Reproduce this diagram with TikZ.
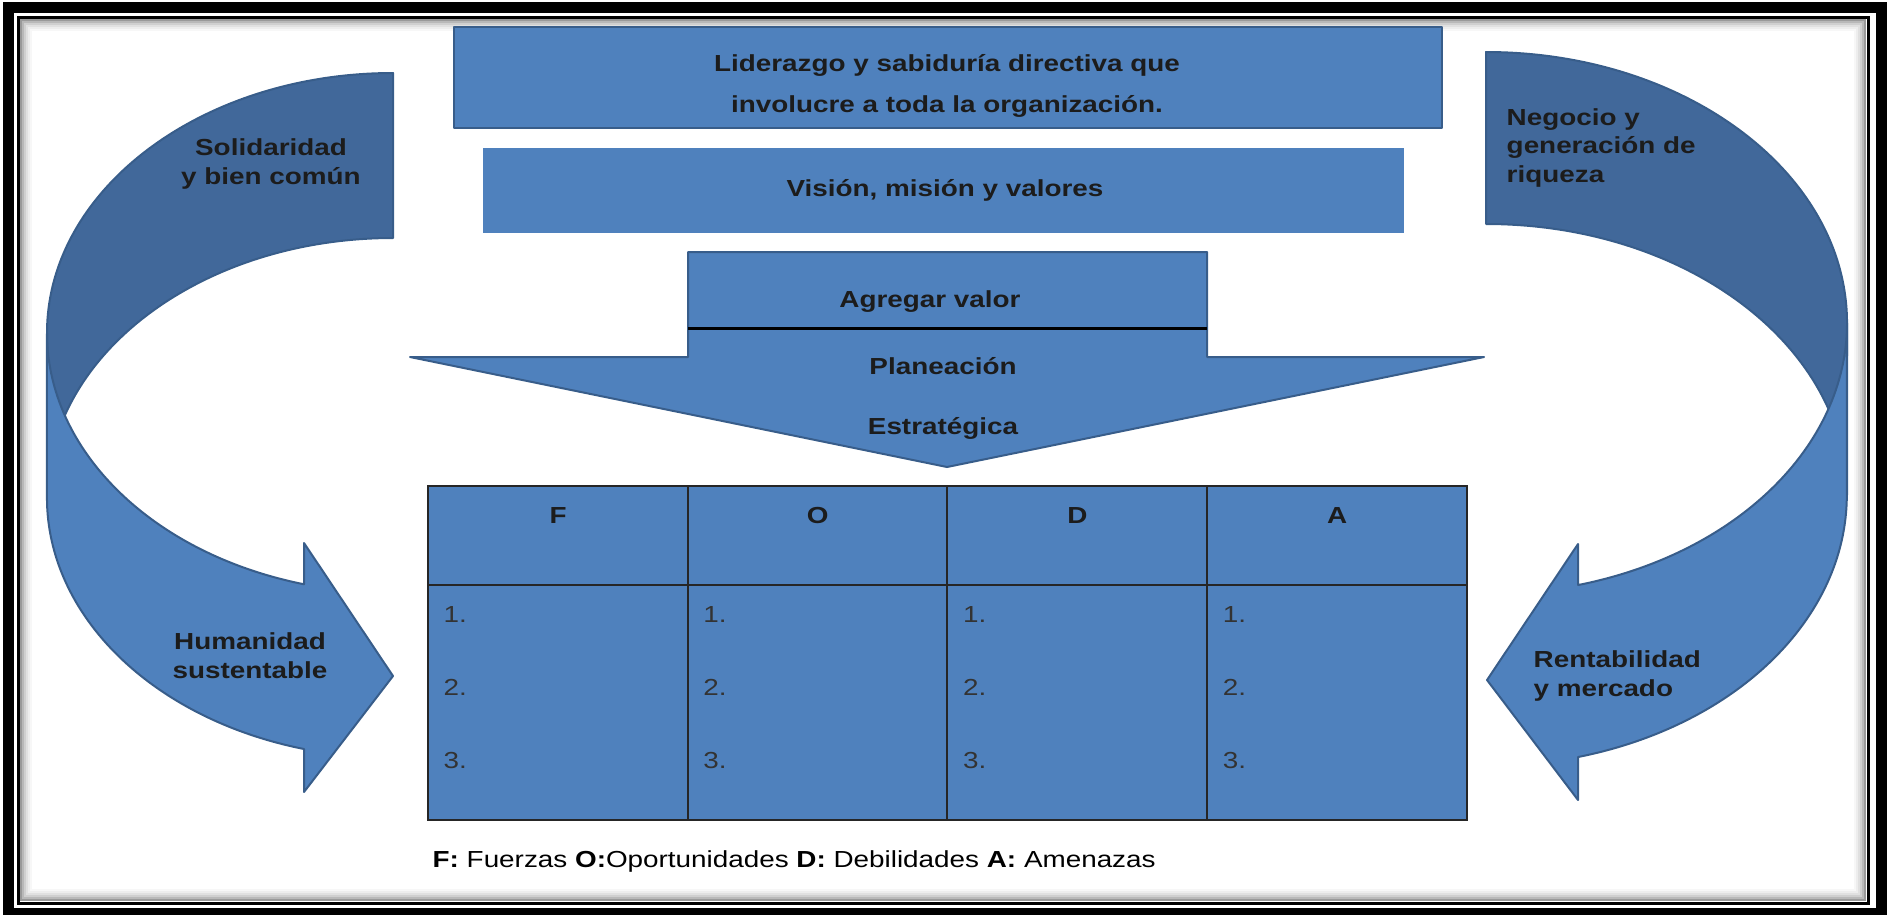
\documentclass[tikz,border=0pt]{standalone}
\usepackage{fontspec}
\setmainfont{Liberation Sans}[FakeStretch=1.2]
\definecolor{boxblue}{RGB}{79,129,189}
\definecolor{backblue}{RGB}{65,104,154}
\definecolor{edgeblue}{RGB}{56,93,138}
\definecolor{inkdark}{RGB}{28,28,28}

\begin{document}
\begin{tikzpicture}[x=0.01cm,y=-0.01cm,
    every node/.style={font=\fontsize{6.6}{8}\selectfont\bfseries, text=inkdark, inner sep=0pt},
    band/.style={fill=boxblue, draw=edgeblue, line width=0.02cm, line join=round},
    back/.style={band, fill=backblue},
    cell/.style={draw=black!85, fill=boxblue, line width=0.02cm},
    item/.style={anchor=base west, font=\fontsize{6.6}{8}\selectfont, text=black!80}]
  \useasboundingbox (0,0) rectangle (1892,914);
  % marco
  \draw[line width=0.11cm] (8.5,7.5) rectangle (1881.5,913.5);
  \draw[line width=0.03cm] (18.5,17.5) rectangle (1868.5,903.5);
  \foreach \i/\g in {1/40,2/28,3/19,4/12,5/7,6/3}
    \draw[black!\g, line width=0.02cm] (19+2*\i,18+2*\i) rectangle (1867-2*\i,902-2*\i);
  % flechas curvas
  \draw[back] (393,73) arc[start angle=270, end angle=180, x radius=346, y radius=260]
    -- (47,498) arc[start angle=180, end angle=270, x radius=346, y radius=260] -- cycle;
  \draw[band] (47,333) arc[start angle=180, end angle=104.9, x radius=346, y radius=260]
    -- (304,543) -- (393,676) -- (304,792) -- (304,749)
    arc[start angle=104.9, end angle=180, x radius=346, y radius=260] -- cycle;
  \draw[back] (1486,52) arc[start angle=270, end angle=360, x radius=361, y radius=271]
    -- (1847,495) arc[start angle=0, end angle=-90, x radius=361, y radius=271] -- cycle;
  \draw[band] (1847,323) arc[start angle=0, end angle=75.2, x radius=361, y radius=271]
    -- (1578,544) -- (1487,680) -- (1578,800) -- (1578,757)
    arc[start angle=75.2, end angle=0, x radius=361, y radius=271] -- cycle;
  \node[anchor=base, align=center] (solid) at (271,184) {Solidaridad\\y bien común};
  \node[anchor=base west, align=left] (negocio) at (1506,182) {Negocio y\\generación de\\riqueza};
  \node[anchor=base, align=center] (human) at (250,678) {Humanidad\\sustentable};
  \node[anchor=base west, align=left] (renta) at (1533,696) {Rentabilidad\\y mercado};
  % cajas superiores
  \node[band, minimum width=9.88cm, minimum height=1.01cm] (lead) at (948,77.5) {};
  \node[fill=boxblue, minimum width=9.21cm, minimum height=0.85cm] (vision) at (943.5,190.5) {};
  \node[anchor=base, align=center, font=\fontsize{6.6}{11.4}\selectfont\bfseries] (leadtxt) at (947,112)
    {Liderazgo y sabiduría directiva que\\involucre a toda la organización.};
  \node[anchor=base] (visiontxt) at (945,196) {Visión, misión y valores};
  % flecha hacia abajo
  \draw[band] (688,252) -- (1207,252) -- (1207,357) -- (1484,357) -- (947,467) -- (410,357) -- (688,357) -- cycle;
  \draw[black, line width=0.03cm] (688,328) -- (1207,328);
  \node[anchor=base] (valor) at (930,307) {Agregar valor};
  \node[anchor=base] (plan) at (943,374) {Planeación};
  \node[anchor=base] (estr) at (943,434) {Estratégica};
  % matriz FODA
  \foreach \lt [count=\k from 0] in {F,O,D,A} {
    \node[cell, minimum width=2.6cm, minimum height=0.99cm] (head\lt) at ({558+259.75*\k},535.5) {};
    \node[cell, minimum width=2.6cm, minimum height=2.35cm] (body\lt) at ({558+259.75*\k},702.5) {};
    \node[anchor=base] (lt\lt) at ({558+259.75*\k},523) {\lt};
    \foreach \n in {1,2,3}
      \node[item] (\lt\n) at ({443+259.75*\k},{549+73*\n}) {\n.};
  }
  \node[anchor=base west, font=\fontsize{6.6}{8}\selectfont, text=black] (legend) at (432,867)
    {\textbf{F:} Fuerzas \textbf{O:}Oportunidades \textbf{D:} Debilidades \textbf{A:} Amenazas};
\end{tikzpicture}
\end{document}
